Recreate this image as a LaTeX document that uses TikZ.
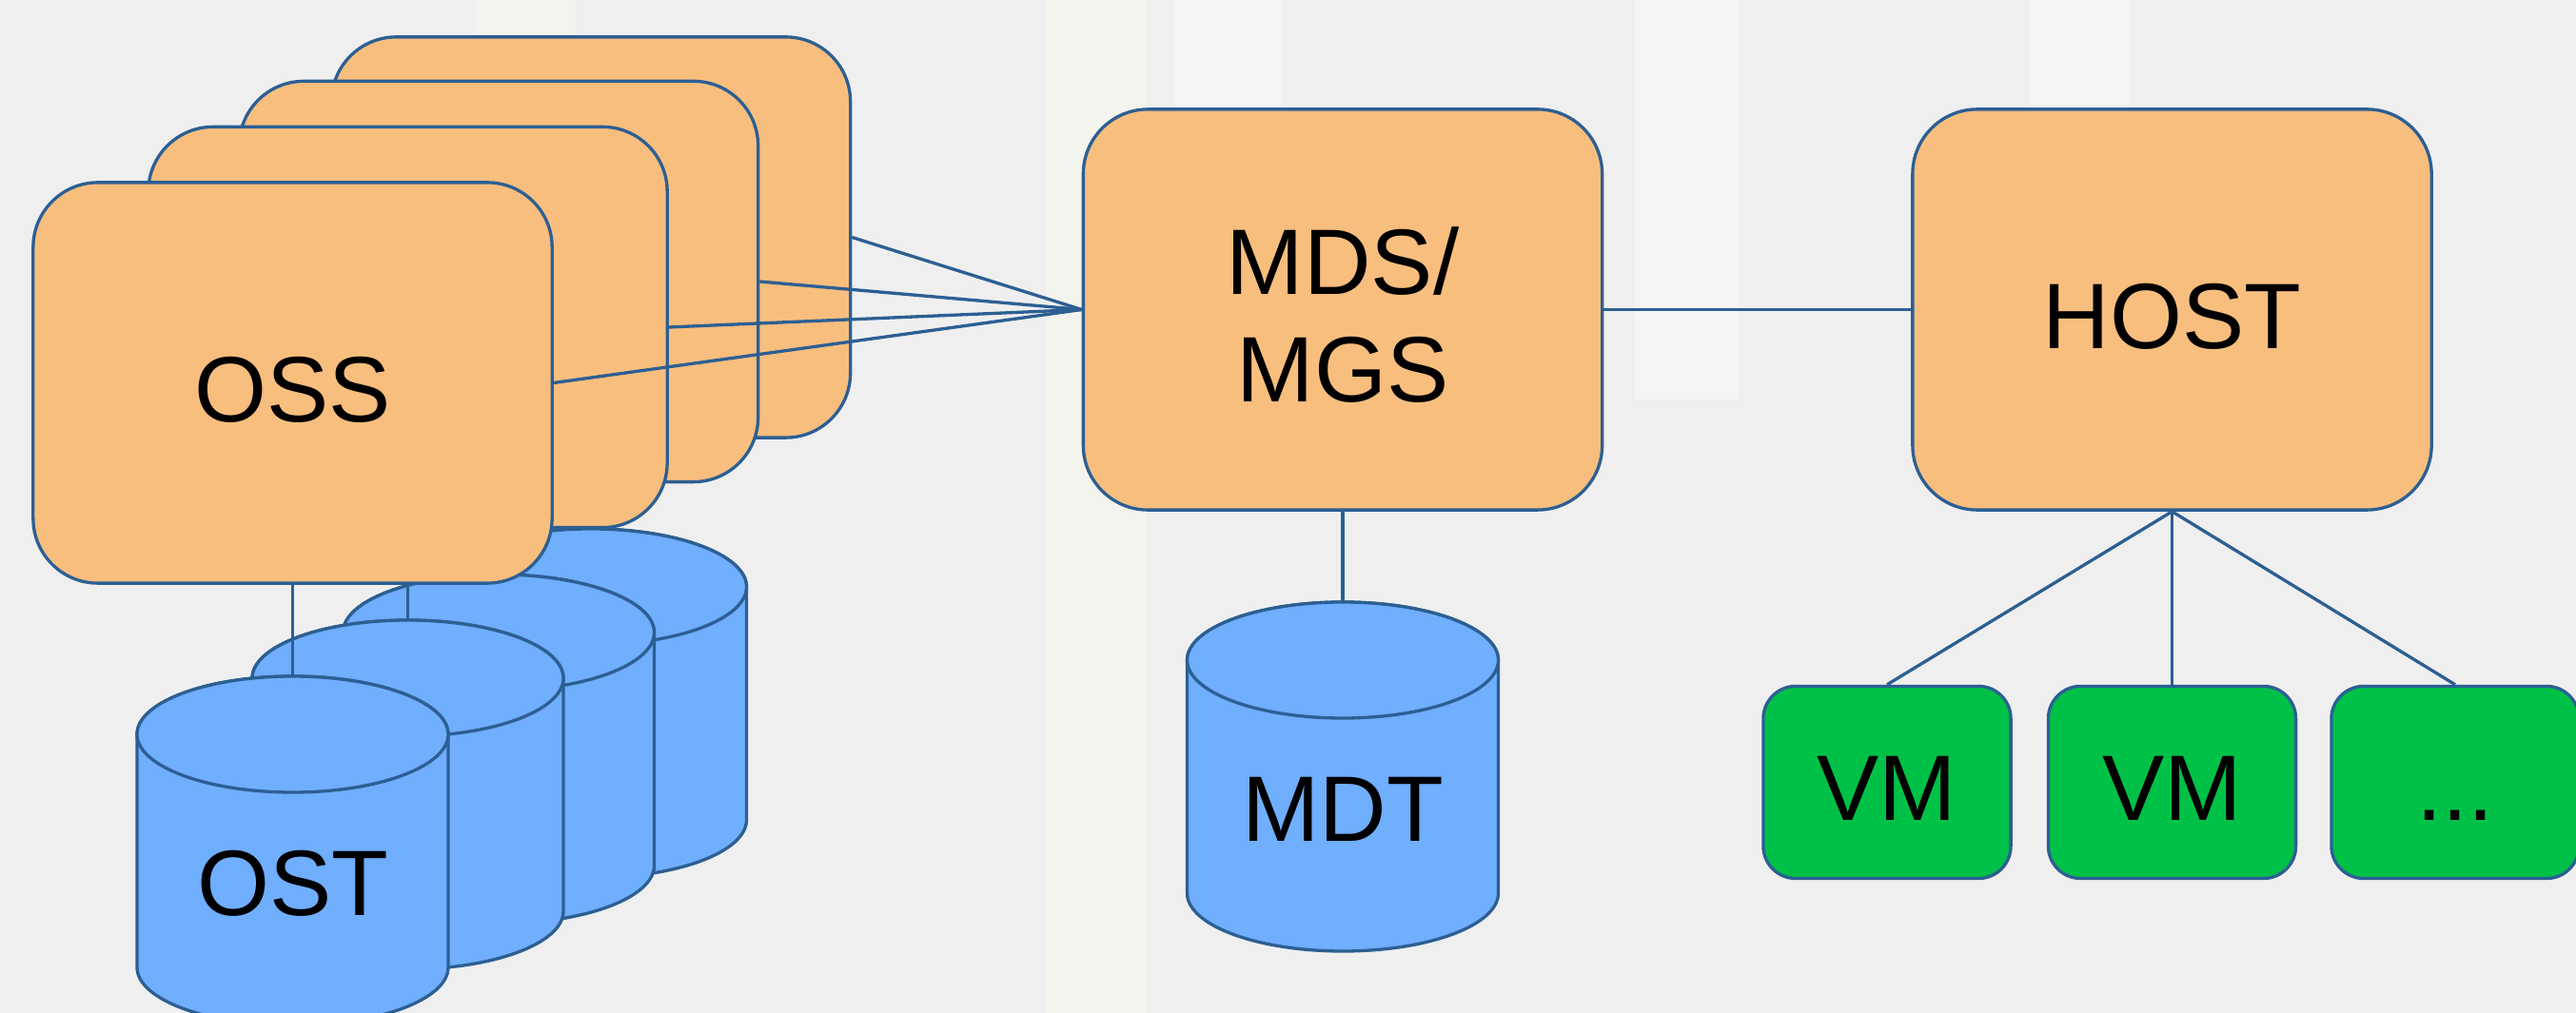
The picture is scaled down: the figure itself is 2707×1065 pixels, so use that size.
\documentclass[tikz,border=0pt]{standalone}
\usepackage{fontspec}
\setmainfont{Liberation Sans}

\pgfdeclarelayer{wallpaper}
\pgfdeclarelayer{disklayer}
\pgfsetlayers{wallpaper,disklayer,main}

\definecolor{edgeblue}{HTML}{2C5F93}
\definecolor{serverfill}{HTML}{F8BE7E}
\definecolor{diskfill}{HTML}{70AEFE}
\definecolor{guestfill}{HTML}{00C148}
\definecolor{basegray}{HTML}{EFEFEF}
\definecolor{lightgray}{HTML}{F5F5F5}
\definecolor{creamgray}{HTML}{F4F4EE}

\tikzset{
  big/.style={font=\fontsize{27.8pt}{32.3pt}\selectfont},
  server/.style={draw=edgeblue, fill=serverfill, line width=0.94pt,
    rounded corners=0.68cm, minimum width=5.45cm, minimum height=4.21cm,
    inner sep=0pt, big, text height=23.5pt, text depth=0pt},
  guest/.style={draw=edgeblue, fill=guestfill, line width=0.94pt,
    rounded corners=0.34cm, minimum width=2.6cm, minimum height=2.02cm,
    inner sep=0pt, big, text height=22.5pt, text depth=0pt},
  wire/.style={draw=edgeblue, line width=0.94pt},
  diskbody/.style={fill=diskfill, draw=edgeblue, line width=0.94pt, line join=round},
}

% disk: #1 name, #2 centre x, #3 top-ellipse centre (depth from top), #4 label
\newcommand\storagedisk[4]{%
  \path[diskbody] (#2-163.5,-#3) -- ++(0,-245)
    arc[start angle=180, end angle=360, x radius=163.5, y radius=61]
    -- ++(0,245)
    arc[start angle=0, end angle=180, x radius=163.5, y radius=61] -- cycle;
  \draw[diskbody] (#2,-#3) ellipse[x radius=163.5, y radius=61];
  \coordinate (#1top) at (#2,-#3+61);
  \node[big] (#1) at (#2,-#3-157) {#4};
}

\begin{document}
\begin{tikzpicture}[x=0.01cm, y=0.01cm]
\useasboundingbox (0,0) rectangle (2707,-1065);

% backdrop
\begin{pgfonlayer}{wallpaper}
  \fill[basegray] (0,0) rectangle (2707,-1065);
  \fill[creamgray] (500,0) rectangle (605,-200);
  \fill[creamgray] (1100,0) rectangle (1205,-1065);
  \fill[lightgray] (1235,0) rectangle (1347,-200);
  \fill[lightgray] (1718,0) rectangle (1827,-420);
  \fill[lightgray] (2133,0) rectangle (2237,-110);
\end{pgfonlayer}

% object storage servers, back to front
\node[server] (oss4) at (621,-249.5) {};
\node[server] (oss3) at (524,-296) {};
\node[server] (oss2) at (428.5,-344) {};
\node[server] (oss1) at (307.5,-402.5) {OSS};

% metadata server and host
\node[server] (mds) at (1411,-325.5) {};
\node[big, align=center] (mdslabel) at ([yshift=-0.055cm]mds.center) {MDS/\\MGS};
\node[server] (host) at (2282.5,-325.5) {HOST};

% virtual machines
\node[guest] (vm1) at (1983,-822.5) {VM};
\node[guest] (vm2) at (2282.5,-822.5) {VM};
\node[guest] (vm3) at (2580,-822.5) {...};

% disks sit behind the servers
\begin{pgfonlayer}{disklayer}
  \storagedisk{ost4}{621}{617}{}
  \storagedisk{ost3}{524}{665}{}
  \storagedisk{ost2}{428.5}{713}{}
  \storagedisk{ost1}{307.5}{772}{OST}
  \storagedisk{mdt}{1411}{694}{MDT}
  \draw[wire] (oss4) -- (ost4top);
  \draw[wire] (oss3) -- (ost3top);
  \draw[wire] (oss2) -- (ost2top);
  \draw[wire] (oss1) -- (ost1top);
  \draw[wire] (mds) -- (mdttop);
\end{pgfonlayer}

% network links
\draw[wire] (oss4.east) -- (mds.west);
\draw[wire] (oss3.east) -- (mds.west);
\draw[wire] (oss2.east) -- (mds.west);
\draw[wire] (oss1.east) -- (mds.west);
\draw[wire] (mds) -- (host);
\draw[wire] (host.south) -- (vm1.north);
\draw[wire] (host.south) -- (vm2.north);
\draw[wire] (host.south) -- (vm3.north);
\end{tikzpicture}
\end{document}
